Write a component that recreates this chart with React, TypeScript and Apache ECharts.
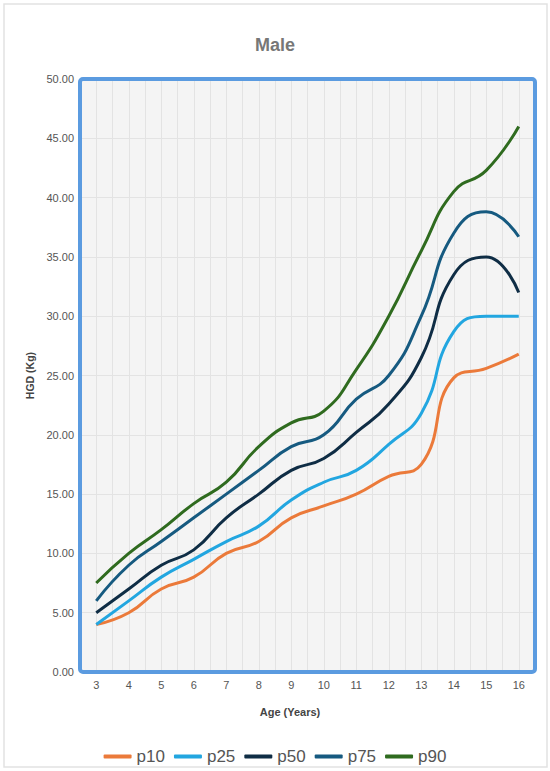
import { useEffect, useRef } from "react";
import * as echarts from "echarts";

const ages = ["3", "4", "5", "6", "7", "8", "9", "10", "11", "12", "13", "14", "15", "16"];
const p10 = [4.0, 5.0, 7.0, 8.0, 10.0, 11.0, 13.0, 14.0, 15.0, 16.5, 17.5, 24.8, 25.6, 26.8];
const p25 = [4.0, 6.0, 8.0, 9.5, 11.0, 12.3, 14.5, 16.0, 17.0, 19.2, 21.8, 28.7, 30.0, 30.0];
const p50 = [5.0, 7.0, 9.0, 10.3, 13.0, 15.0, 17.0, 18.0, 20.2, 22.6, 26.5, 33.5, 35.0, 32.0];
const p75 = [6.0, 9.0, 11.0, 13.0, 15.0, 17.0, 19.0, 20.0, 23.0, 25.0, 30.0, 37.0, 38.8, 36.7];
const p90 = [7.5, 10.0, 12.0, 14.2, 16.0, 19.0, 21.0, 22.0, 25.5, 30.0, 35.5, 40.5, 42.3, 46.0];

const seriesNames = ["p10", "p25", "p50", "p75", "p90"];
const seriesColors = ["#eb7a3a", "#22a6e0", "#0f2d45", "#165a80", "#2f6b1f"];

const FONT = "'Liberation Sans', Arial, sans-serif";

// plot box
const GRID_LEFT = 80;
const GRID_TOP = 79;
const GRID_RIGHT = 15;
const GRID_BOTTOM = 99;

export default function App() {
  const chartRef = useRef<HTMLDivElement>(null);

  useEffect(() => {
    document.body.style.margin = "0";
    if (!chartRef.current) return;
    const chart = echarts.init(chartRef.current, undefined, { renderer: "svg" });

    const W = 550;
    const H = 771;
    const plotW = W - GRID_LEFT - GRID_RIGHT;
    const plotH = H - GRID_TOP - GRID_BOTTOM;

    const values = [p10, p25, p50, p75, p90];

    const option: echarts.EChartsOption = {
      animation: false,
      backgroundColor: "#ffffff",
      title: {
        text: "Male",
        left: "center",
        top: 31,
        textStyle: {
          fontFamily: FONT,
          fontSize: 18,
          fontWeight: "bold",
          color: "#777777",
        },
      },
      grid: {
        left: GRID_LEFT,
        top: GRID_TOP,
        right: GRID_RIGHT,
        bottom: GRID_BOTTOM,
        show: true,
        backgroundColor: "#f4f4f4",
        borderWidth: 0,
      },
      legend: {
        data: seriesNames,
        left: "center",
        top: 743,
        icon: "roundRect",
        itemWidth: 28,
        itemHeight: 4,
        itemGap: 9,
        textStyle: {
          fontFamily: FONT,
          fontSize: 17,
          color: "#555555",
        },
      },
      xAxis: [
        {
          type: "category",
          data: ages,
          boundaryGap: true,
          axisLine: { show: false },
          axisTick: { show: false },
          splitLine: { show: false },
          axisLabel: {
            fontFamily: FONT,
            fontSize: 11,
            color: "#555555",
            margin: 7,
          },
        },
        {
          // grid lines at every half step
          type: "value",
          min: 2.5,
          max: 16.5,
          interval: 0.5,
          show: true,
          axisLine: { show: false },
          axisTick: { show: false },
          axisLabel: { show: false },
          splitLine: { show: true, lineStyle: { color: "#e3e3e3", width: 1 } },
        },
      ],
      yAxis: {
        type: "value",
        min: 0,
        max: 50,
        interval: 5,
        name: "HGD (Kg)",
        nameLocation: "middle",
        nameGap: 44,
        nameTextStyle: {
          fontFamily: FONT,
          fontSize: 10.5,
          fontWeight: "bold",
          color: "#444444",
        },
        axisLine: { show: false },
        axisTick: { show: false },
        axisLabel: {
          fontFamily: FONT,
          fontSize: 11,
          color: "#555555",
          margin: 6,
          formatter: (v: number) => v.toFixed(2),
        },
        splitLine: { lineStyle: { color: "#e3e3e3", width: 1 } },
      },
      series: seriesNames.map((name, i) => ({
        name,
        type: "line",
        data: values[i],
        xAxisIndex: 0,
        smooth: true,
        showSymbol: false,
        symbol: "none",
        lineStyle: { color: seriesColors[i], width: 3 },
        itemStyle: { color: seriesColors[i] },
        z: 3,
      })),
      graphic: [
        {
          type: "rect",
          shape: { x: 4, y: 4, width: 543, height: 763 },
          style: { fill: "none", stroke: "#e2e2e2", lineWidth: 1.5 },
          silent: true,
          z: 0,
        },
        {
          type: "rect",
          shape: { x: GRID_LEFT, y: GRID_TOP, width: plotW, height: plotH, r: 3 },
          style: { fill: "none", stroke: "#5b9be0", lineWidth: 4 },
          silent: true,
          z: 10,
        },
        {
          type: "text",
          x: 290,
          y: 712,
          style: {
            text: "Age (Years)",
            fontFamily: FONT,
            fontSize: 11,
            fontWeight: "bold",
            fill: "#444444",
            align: "center",
            verticalAlign: "middle",
          },
        },
      ],
    };

    chart.setOption(option);

    return () => {
      chart.dispose();
    };
  }, []);

  return <div ref={chartRef} style={{ width: 550, height: 771 }} />;
}
